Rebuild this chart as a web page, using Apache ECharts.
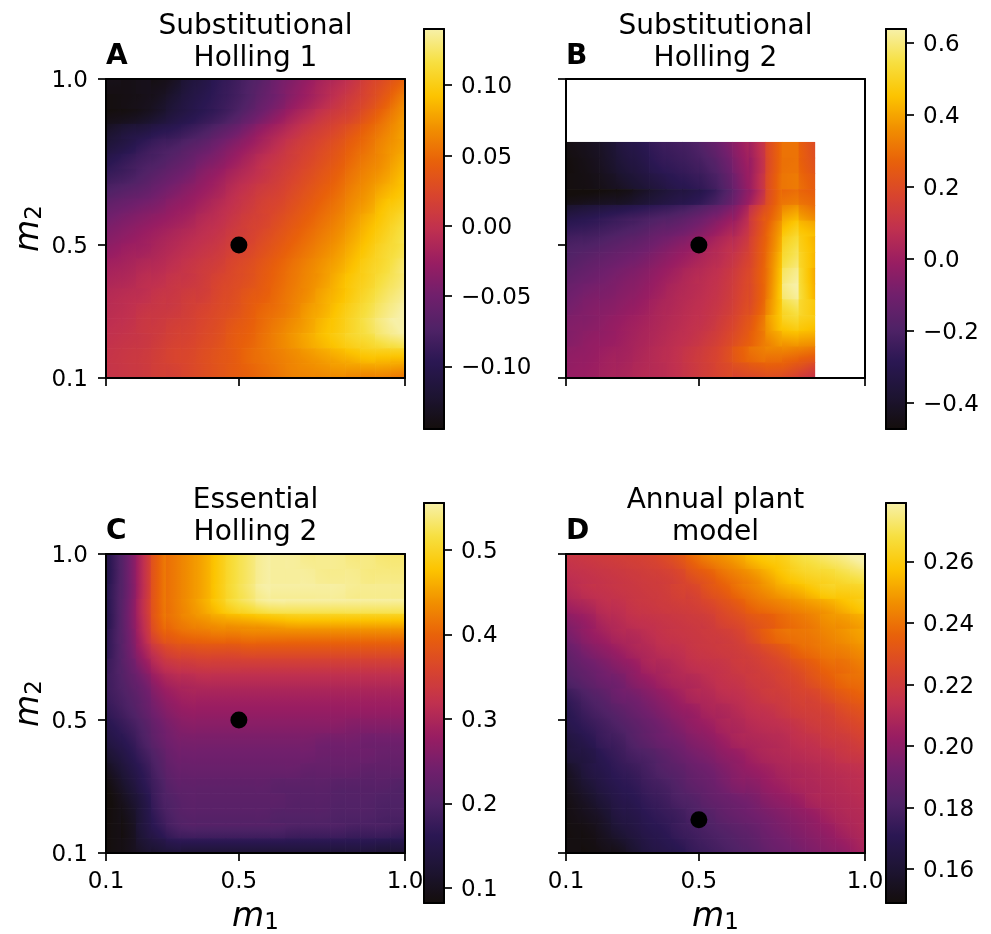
<!DOCTYPE html>
<html><head><meta charset="utf-8">
<style>html,body{margin:0;background:#fff}#c{width:991px;height:934px}</style>
<script src="https://cdn.jsdelivr.net/npm/echarts@6/dist/echarts.min.js"></script>
</head><body><div id="c"></div>
<script>
// Cell readings: position of each cell's colour along its panel's colourbar, in percent
// (0 = bottom of bar, 100 = top). Rows run from m2 = 1.0 (top) to m2 = 0.1 (bottom).
const panelA_pct = [
[2,2,3,3,6,11,14,18,21,25,29,34,38,42,46,49,53,58,62,67],
[1,2,3,5,9,13,16,19,22,26,31,35,40,44,48,52,56,60,65,71],
[2,3,5,8,12,15,18,21,25,30,35,40,45,49,53,56,59,64,69,74],
[8,11,13,16,18,21,24,28,32,37,42,46,50,54,57,60,64,68,72,76],
[12,15,19,22,24,27,30,34,38,42,46,50,54,57,60,63,67,70,74,77],
[17,20,23,25,28,31,35,38,42,46,50,53,56,59,62,65,69,72,75,79],
[21,23,26,29,32,35,39,42,46,49,52,55,58,61,64,67,71,74,77,81],
[26,28,30,33,36,39,42,45,49,52,55,57,60,63,66,69,73,76,80,83],
[31,33,35,37,40,42,45,48,51,54,57,59,62,65,68,71,75,78,83,86],
[35,37,39,41,43,45,48,50,53,56,58,61,64,67,70,73,77,81,85,89],
[38,40,42,44,46,48,50,52,55,57,60,63,66,69,72,75,79,83,87,91],
[41,43,44,46,48,50,52,54,57,59,62,65,68,71,74,77,81,85,89,92],
[44,45,47,48,50,52,54,56,59,61,64,67,70,73,76,79,83,87,90,94],
[46,47,49,50,52,53,55,58,60,62,65,68,71,74,77,81,85,88,92,95],
[48,49,50,52,53,55,56,59,61,64,66,69,72,75,79,82,86,90,94,97],
[49,50,52,53,54,56,58,60,62,65,68,70,73,77,80,84,88,92,96,99],
[50,51,53,54,56,57,59,61,64,66,69,72,75,78,82,85,89,93,97,100],
[51,52,53,55,57,58,60,62,65,67,70,73,76,79,82,85,88,90,93,95],
[52,53,54,56,58,59,61,63,65,68,70,72,74,76,78,80,82,84,84,84],
[52,53,54,56,57,59,61,63,65,67,69,71,73,74,75,76,76,76,76,75]];
// Panel B fills only the lower-left 15 x 15 cells of an 18 x 19 lattice.
const panelB_pct = [
[2,4,7,12,15,19,21,23,27,33,41,48,64,70,64],
[1,3,6,10,13,17,19,21,24,30,39,47,64,70,65],
[1,2,4,7,10,13,16,18,21,27,37,48,65,71,67],
[1,2,3,4,7,10,13,15,19,26,36,48,65,70,68],
[12,14,16,18,20,22,24,27,31,36,43,58,68,78,74],
[19,20,22,24,26,29,31,34,38,43,48,60,72,85,82],
[24,25,27,29,31,34,37,40,44,48,52,62,74,90,84],
[27,29,31,33,35,38,41,44,47,50,55,63,76,93,85],
[30,32,34,36,38,41,44,47,49,52,57,64,77,97,85],
[33,35,36,38,40,43,46,48,50,53,58,64,78,98,86],
[35,37,38,40,42,45,47,49,51,54,59,65,79,92,87],
[37,38,40,42,44,46,48,50,52,56,61,68,80,87,85],
[38,40,41,43,45,47,49,51,54,58,63,69,76,79,78],
[40,41,43,44,46,48,50,53,56,60,66,70,71,70,68],
[41,42,44,45,47,48,50,53,56,59,61,63,64,62,58]];
const panelC_pct = [
[20,33,50,67,71,75,79,85,91,95,99,99,99,98,98,98,97,97,96,96],
[20,33,50,67,71,75,79,85,91,95,99,99,99,99,98,98,98,97,97,97],
[21,33,50,67,71,75,79,85,91,95,99,99,99,99,99,99,98,98,98,98],
[21,34,51,67,71,75,79,84,89,92,95,96,96,96,96,96,96,96,96,96],
[21,34,50,66,70,73,75,77,78,79,80,81,82,82,82,82,82,82,82,82],
[22,33,48,62,66,68,69,70,70,71,71,71,71,71,71,71,71,71,71,71],
[22,32,44,54,59,60,61,61,61,62,62,62,62,62,62,62,62,62,62,62],
[23,30,39,48,52,53,54,54,54,54,54,54,54,54,54,54,54,54,54,54],
[23,28,34,42,46,47,48,48,48,48,48,48,48,48,48,48,48,48,48,48],
[22,26,31,38,42,44,44,44,44,44,44,44,44,44,44,44,44,44,44,44],
[20,24,29,35,39,41,41,41,41,41,41,41,41,41,41,41,41,41,41,41],
[17,21,26,32,36,38,38,38,38,38,38,38,38,38,38,38,37,37,37,37],
[14,18,24,30,34,35,35,35,35,35,35,35,35,35,34,34,34,33,33,33],
[10,15,21,27,32,33,33,33,33,33,33,33,33,33,32,32,32,32,31,31],
[6,12,18,25,30,31,31,31,31,31,31,31,31,30,30,30,30,29,29,29],
[3,9,16,23,28,29,29,29,29,29,29,28,28,28,28,27,27,27,27,26],
[1,6,13,22,26,28,28,28,28,28,28,28,27,27,27,26,26,26,25,25],
[1,4,12,20,25,27,27,27,27,27,27,26,26,26,26,25,25,25,24,24],
[1,3,11,17,22,24,24,24,24,24,24,24,23,23,23,23,22,22,22,21],
[1,3,8,11,14,14,14,14,14,14,14,14,14,14,14,14,14,14,13,13]];
const panelD_pct = [
[52,53,54,55,56,57,59,62,67,71,74,77,81,84,86,90,92,94,96,99],
[50,51,52,53,54,55,56,58,62,65,69,72,75,79,83,86,88,89,91,93],
[48,50,51,52,53,54,55,57,58,62,65,69,72,75,78,80,83,86,86,87],
[44,46,49,50,52,53,54,55,56,58,61,64,68,70,72,74,76,78,81,84],
[39,42,46,48,50,51,52,53,54,55,58,60,63,65,68,70,72,75,76,78],
[36,40,43,46,47,49,51,52,53,54,55,57,61,66,69,70,71,73,75,77],
[32,36,39,42,45,47,49,50,52,53,54,55,57,60,63,67,69,71,72,74],
[29,32,35,38,41,45,46,48,50,51,52,54,55,57,59,62,65,68,69,71],
[26,29,32,34,38,41,44,46,47,49,51,52,54,55,57,59,62,65,68,69],
[21,25,28,32,34,37,40,43,46,47,49,50,52,54,55,57,58,61,64,66],
[18,22,25,28,31,34,37,40,42,45,46,48,50,51,53,55,56,57,60,62],
[16,19,22,25,28,31,34,37,40,42,45,46,48,49,50,52,54,55,57,59],
[13,16,20,22,26,29,32,34,37,39,42,45,46,47,48,50,51,53,54,56],
[11,13,17,20,23,25,28,31,34,36,39,41,44,46,47,48,49,50,52,53],
[7,12,15,18,20,23,26,28,31,33,36,39,41,43,45,46,47,48,49,50],
[5,9,13,16,18,21,23,26,29,31,34,37,38,41,43,45,46,47,48,49],
[3,6,10,14,16,19,21,24,26,29,31,33,35,38,40,42,45,46,47,48],
[2,4,7,12,14,17,19,21,24,26,29,31,33,35,37,39,41,44,46,47],
[1,2,5,9,12,15,17,20,22,24,26,28,30,33,35,37,39,41,44,46],
[1,1,3,5,9,13,15,17,20,22,24,26,28,31,33,35,37,39,41,44]];

const titles = ['Substitutional\nHolling 1','Substitutional\nHolling 2','Essential\nHolling 2','Annual plant\nmodel'];
const letters = ['A','B','C','D'];
const axisTicks = [0.1,0.5,1.0];
const barMins = [-0.1445,-0.472,0.082,0.149];
const barMaxs = [0.14,0.639,0.5556,0.279];
const barTicks = [
  [-0.10,-0.05,0,0.05,0.10],
  [-0.4,-0.2,0,0.2,0.4,0.6],
  [0.1,0.2,0.3,0.4,0.5],
  [0.16,0.18,0.20,0.22,0.24,0.26]];
const barDigits = [2,1,1,2];
const dotX = [0.5,0.5,0.5,0.5];
const dotY = [0.5,0.5,0.5,0.2];
const infernoStops = ['#140e0c','#1d1433','#2a1752','#4f2266','#701f6c','#991d62','#c0304f','#d8442e','#e8600a','#f18f00','#fcc400','#f7df40','#f7f0a8'];

const panels = [panelA_pct,panelB_pct,panelC_pct,panelD_pct];
const latticeX = [20,18,20,20], latticeY = [20,19,20,20];
const gridLeft = [106,566,106,566], gridTop = [79,79,554,554];
const barLeft = [424,886,424,886], barTop = [29,29,503,503];
const titleTop = [11,11,485,485];
const FONT = 'DejaVu Sans', INK = '#000';

const option = {animation:false,backgroundColor:'#fff',textStyle:{fontFamily:FONT},
  title:[],grid:[],xAxis:[],yAxis:[],series:[],visualMap:[]};
const nameRich = {m:{fontFamily:FONT,fontStyle:'italic',fontSize:33,color:INK},
                  s:{fontFamily:FONT,fontSize:23,color:INK,padding:[12,0,0,0]}};
const line = {show:true,onZero:false,lineStyle:{color:INK,width:2}};
const tick = {show:true,length:8,lineStyle:{color:INK,width:1.7},customValues:axisTicks};
const fmt1 = v => v.toFixed(1);
const shade = t => echarts.color.lerp(Math.min(1,Math.max(0,t)), infernoStops);

// One rectangle per cell. Its fill follows the local slope between neighbouring cells,
// so the panel reads as the continuous shading of the reference instead of flat tiles.
function cellRenderer(rows, lo, hi){
  return function(params, api){
    const c = api.value(0), y = api.value(1), r = rows.length-1-y;
    const p = api.coord([c,y]), s = api.size([1,1]);
    const row = rows[r];
    const L = c>0?row[c-1]:row[c], R = c<row.length-1?row[c+1]:row[c];
    const U = r>0?rows[r-1][c]:row[c], D = r<rows.length-1?rows[r+1][c]:row[c];
    const gx = (R-L)/((c>0?1:0)+(c<row.length-1?1:0));
    const gy = (D-U)/((r>0?1:0)+(r<rows.length-1?1:0));
    const v = (api.value(2)-lo)/(hi-lo)*100, d = (Math.abs(gx)+Math.abs(gy))/2, n = gx*gx+gy*gy;
    let fill = shade(v/100);
    if(n>0){
      const k = d/n, st = [];
      for(let i=0;i<=8;i++) st.push({offset:i/8,color:shade((v-d+2*d*i/8)/100)});
      fill = new echarts.graphic.LinearGradient(.5-k*gx,.5-k*gy,.5+k*gx,.5+k*gy,st);
    }
    const w = s[0]+(c<row.length-1?.7:0), h = s[1]+(r<rows.length-1?.7:0);
    return {type:'rect',shape:{x:p[0]-s[0]/2,y:p[1]-s[1]/2,width:w,height:h},style:{fill}};
  };
}

panels.forEach((rows,p)=>{
  const g = option.grid.length;
  option.grid.push({left:gridLeft[p],top:gridTop[p],width:299,height:299,show:false,outerBoundsMode:'none'});
  const showX = p>=2, showY = p%2===0;
  const xBase = option.xAxis.length, yBase = option.yAxis.length;
  const cat = n => Array.from({length:n},(_, i)=>String(i));
  option.xAxis.push(
    {gridIndex:g,type:'category',data:cat(latticeX[p]),show:false},
    {gridIndex:g,type:'value',min:0.1,max:1,position:'bottom',z:10,splitLine:{show:false},axisLine:line,axisTick:tick,
      axisLabel:{show:showX,customValues:axisTicks,formatter:fmt1,fontSize:23,color:INK,margin:18,fontFamily:FONT,hideOverlap:false},
      name:showX?'{m|m}{s|1}':'',nameLocation:'middle',nameGap:47,nameTextStyle:{rich:nameRich}},
    {gridIndex:g,type:'value',min:0.1,max:1,position:'top',z:10,splitLine:{show:false},axisLine:line,axisTick:{show:false},axisLabel:{show:false}});
  option.yAxis.push(
    {gridIndex:g,type:'category',data:cat(latticeY[p]),show:false},
    {gridIndex:g,type:'value',min:0.1,max:1,position:'left',z:10,splitLine:{show:false},axisLine:line,axisTick:tick,
      axisLabel:{show:showY,customValues:axisTicks,formatter:fmt1,fontSize:23,color:INK,margin:18,verticalAlign:'top',lineHeight:4,fontFamily:FONT,hideOverlap:false},
      name:showY?'{m|m}{s|2}':'',nameLocation:'middle',nameGap:59,nameRotate:90,nameTextStyle:{rich:nameRich}},
    {gridIndex:g,type:'value',min:0.1,max:1,position:'right',z:10,splitLine:{show:false},axisLine:line,axisTick:{show:false},axisLabel:{show:false}});

  const lo = barMins[p], hi = barMaxs[p], cells = [];
  rows.forEach((row,r)=>row.forEach((pct,c)=>{
    cells.push([c, rows.length-1-r, lo+pct/100*(hi-lo)]);
  }));
  const seriesIndex = option.series.length;
  option.series.push({type:'custom',xAxisIndex:xBase,yAxisIndex:yBase,data:cells,z:2,silent:true,clip:true,
    encode:{x:0,y:1},renderItem:cellRenderer(rows,lo,hi)});
  option.series.push({type:'scatter',xAxisIndex:xBase+1,yAxisIndex:yBase+1,data:[[dotX[p],dotY[p]]],
    symbolSize:17,z:12,silent:true,itemStyle:{color:'#000',opacity:1}});

  option.visualMap.push({type:'continuous',seriesIndex,dimension:2,min:lo,max:hi,left:barLeft[p],top:barTop[p],
    itemWidth:20,itemHeight:400,padding:0,calculable:false,hoverLink:false,text:null,showLabel:false,
    inRange:{color:infernoStops},z:4});

  // colourbar frame and scale
  const g2 = option.grid.length;
  option.grid.push({left:barLeft[p],top:barTop[p],width:20,height:400,show:false,outerBoundsMode:'none'});
  option.xAxis.push(
    {gridIndex:g2,type:'value',min:0,max:1,position:'bottom',z:10,splitLine:{show:false},axisLine:line,axisTick:{show:false},axisLabel:{show:false}},
    {gridIndex:g2,type:'value',min:0,max:1,position:'top',z:10,splitLine:{show:false},axisLine:line,axisTick:{show:false},axisLabel:{show:false}});
  option.yAxis.push(
    {gridIndex:g2,type:'value',min:lo,max:hi,position:'right',z:10,splitLine:{show:false},axisLine:line,
      axisTick:{show:true,length:8,lineStyle:{color:INK,width:1.7},customValues:barTicks[p]},
      axisLabel:{customValues:barTicks[p],fontSize:23,color:INK,margin:17,verticalAlign:'top',lineHeight:4,fontFamily:FONT,hideOverlap:false,
        formatter:v=>v.toFixed(barDigits[p]).replace('-','\u2212')}},
    {gridIndex:g2,type:'value',min:lo,max:hi,position:'left',z:10,splitLine:{show:false},axisLine:line,axisTick:{show:false},axisLabel:{show:false}});

  option.title.push({text:titles[p],left:gridLeft[p]+149.5,top:titleTop[p],padding:0,textAlign:'center',
    textStyle:{fontFamily:FONT,fontWeight:'normal',fontSize:28,lineHeight:32,color:INK}});
  option.title.push({text:letters[p],left:gridLeft[p],top:gridTop[p]-36,padding:0,
    textStyle:{fontFamily:FONT,fontWeight:'bold',fontSize:28,color:INK}});
});

echarts.init(document.getElementById('c'),null,{renderer:'canvas'}).setOption(option);
</script></body></html>
